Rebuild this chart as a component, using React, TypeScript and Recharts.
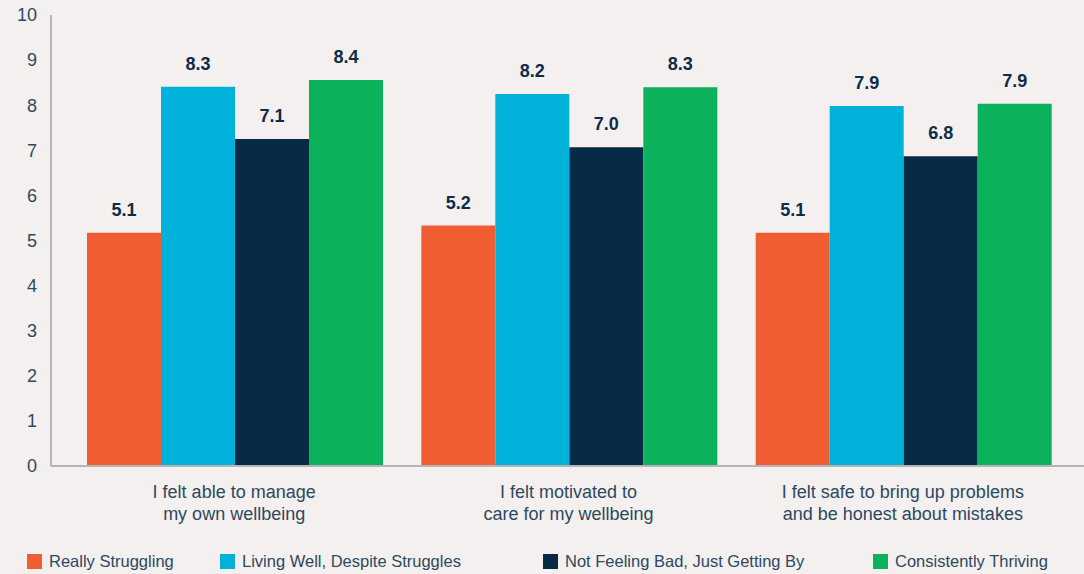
import { BarChart, Bar, XAxis, YAxis, LabelList } from "recharts";

const categories = [
  "I felt able to manage\nmy own wellbeing",
  "I felt motivated to\ncare for my wellbeing",
  "I felt safe to bring up problems\nand be honest about mistakes",
];

// bar heights as drawn, and the labels printed above them
const reallyStruggling = [5.17, 5.33, 5.17];
const livingWell = [8.41, 8.25, 7.98];
const notFeelingBad = [7.25, 7.07, 6.87];
const consistentlyThriving = [8.56, 8.4, 8.03];

const reallyStrugglingLabels = ["5.1", "5.2", "5.1"];
const livingWellLabels = ["8.3", "8.2", "7.9"];
const notFeelingBadLabels = ["7.1", "7.0", "6.8"];
const consistentlyThrivingLabels = ["8.4", "8.3", "7.9"];

const yTicks = [0, 1, 2, 3, 4, 5, 6, 7, 8, 9, 10];

const series = [
  { key: "rs", name: "Really Struggling", color: "#f15d32", values: reallyStruggling, labels: reallyStrugglingLabels },
  { key: "lw", name: "Living Well, Despite Struggles", color: "#00b1d9", values: livingWell, labels: livingWellLabels },
  { key: "nb", name: "Not Feeling Bad, Just Getting By", color: "#072a47", values: notFeelingBad, labels: notFeelingBadLabels },
  { key: "ct", name: "Consistently Thriving", color: "#0bb15b", values: consistentlyThriving, labels: consistentlyThrivingLabels },
];

const data = categories.map((c, i) => {
  const row: Record<string, string | number> = { category: c };
  series.forEach((s) => {
    row[s.key] = s.values[i];
    row[s.key + "Label"] = s.labels[i];
  });
  return row;
});

const FONT = "'Liberation Sans', Arial, Helvetica, sans-serif";
const TEXT = "#2d4862";
const legendLeft = [27, 220, 543, 873];

function CategoryTick({ x, y, payload }: any) {
  const lines = String(payload.value).split("\n");
  return (
    <text x={x} y={y} textAnchor="middle" fill={TEXT} fontSize={18} fontFamily={FONT}>
      {lines.map((l, i) => (
        <tspan key={i} x={x} dy={i === 0 ? 24 : 22}>
          {l}
        </tspan>
      ))}
    </text>
  );
}

export default function App() {
  return (
    <div
      style={{
        position: "fixed",
        left: 0,
        top: 0,
        width: 1084,
        height: 574,
        background: "#f4f0ef",
        fontFamily: FONT,
      }}
    >
      <BarChart
        width={1084}
        height={574}
        data={data}
        margin={{ top: 15, right: 0, bottom: 0, left: 0 }}
        barCategoryGap={20}
        barGap={0}
      >
        <XAxis
          dataKey="category"
          height={108}
          tickLine={false}
          axisLine={{ stroke: "#b5b5b5", strokeWidth: 2 }}
          padding={{ left: 16, right: 14 }}
          tick={<CategoryTick />}
          interval={0}
        />
        <YAxis
          width={51}
          domain={[0, 10]}
          ticks={yTicks}
          interval={0}
          tickLine={false}
          tickMargin={8}
          axisLine={{ stroke: "#b5b5b5", strokeWidth: 2 }}
          tick={{ fill: TEXT, fontSize: 18, fontFamily: FONT }}
        />
        {series.map((s) => (
          <Bar key={s.key} dataKey={s.key} name={s.name} fill={s.color} isAnimationActive={false}>
            <LabelList
              dataKey={s.key + "Label"}
              position="top"
              offset={17}
              fill="#0d2c4a"
              fontSize={18}
              fontWeight="bold"
              fontFamily={FONT}
            />
          </Bar>
        ))}
      </BarChart>
      {series.map((s, i) => (
        <div
          key={s.key}
          style={{
            position: "absolute",
            left: legendLeft[i],
            top: 552,
            display: "flex",
            alignItems: "center",
            gap: 7,
            fontSize: 16.5,
            color: TEXT,
            lineHeight: "18px",
          }}
        >
          <span style={{ width: 15, height: 15, background: s.color, display: "inline-block" }} />
          <span>{s.name}</span>
        </div>
      ))}
    </div>
  );
}
